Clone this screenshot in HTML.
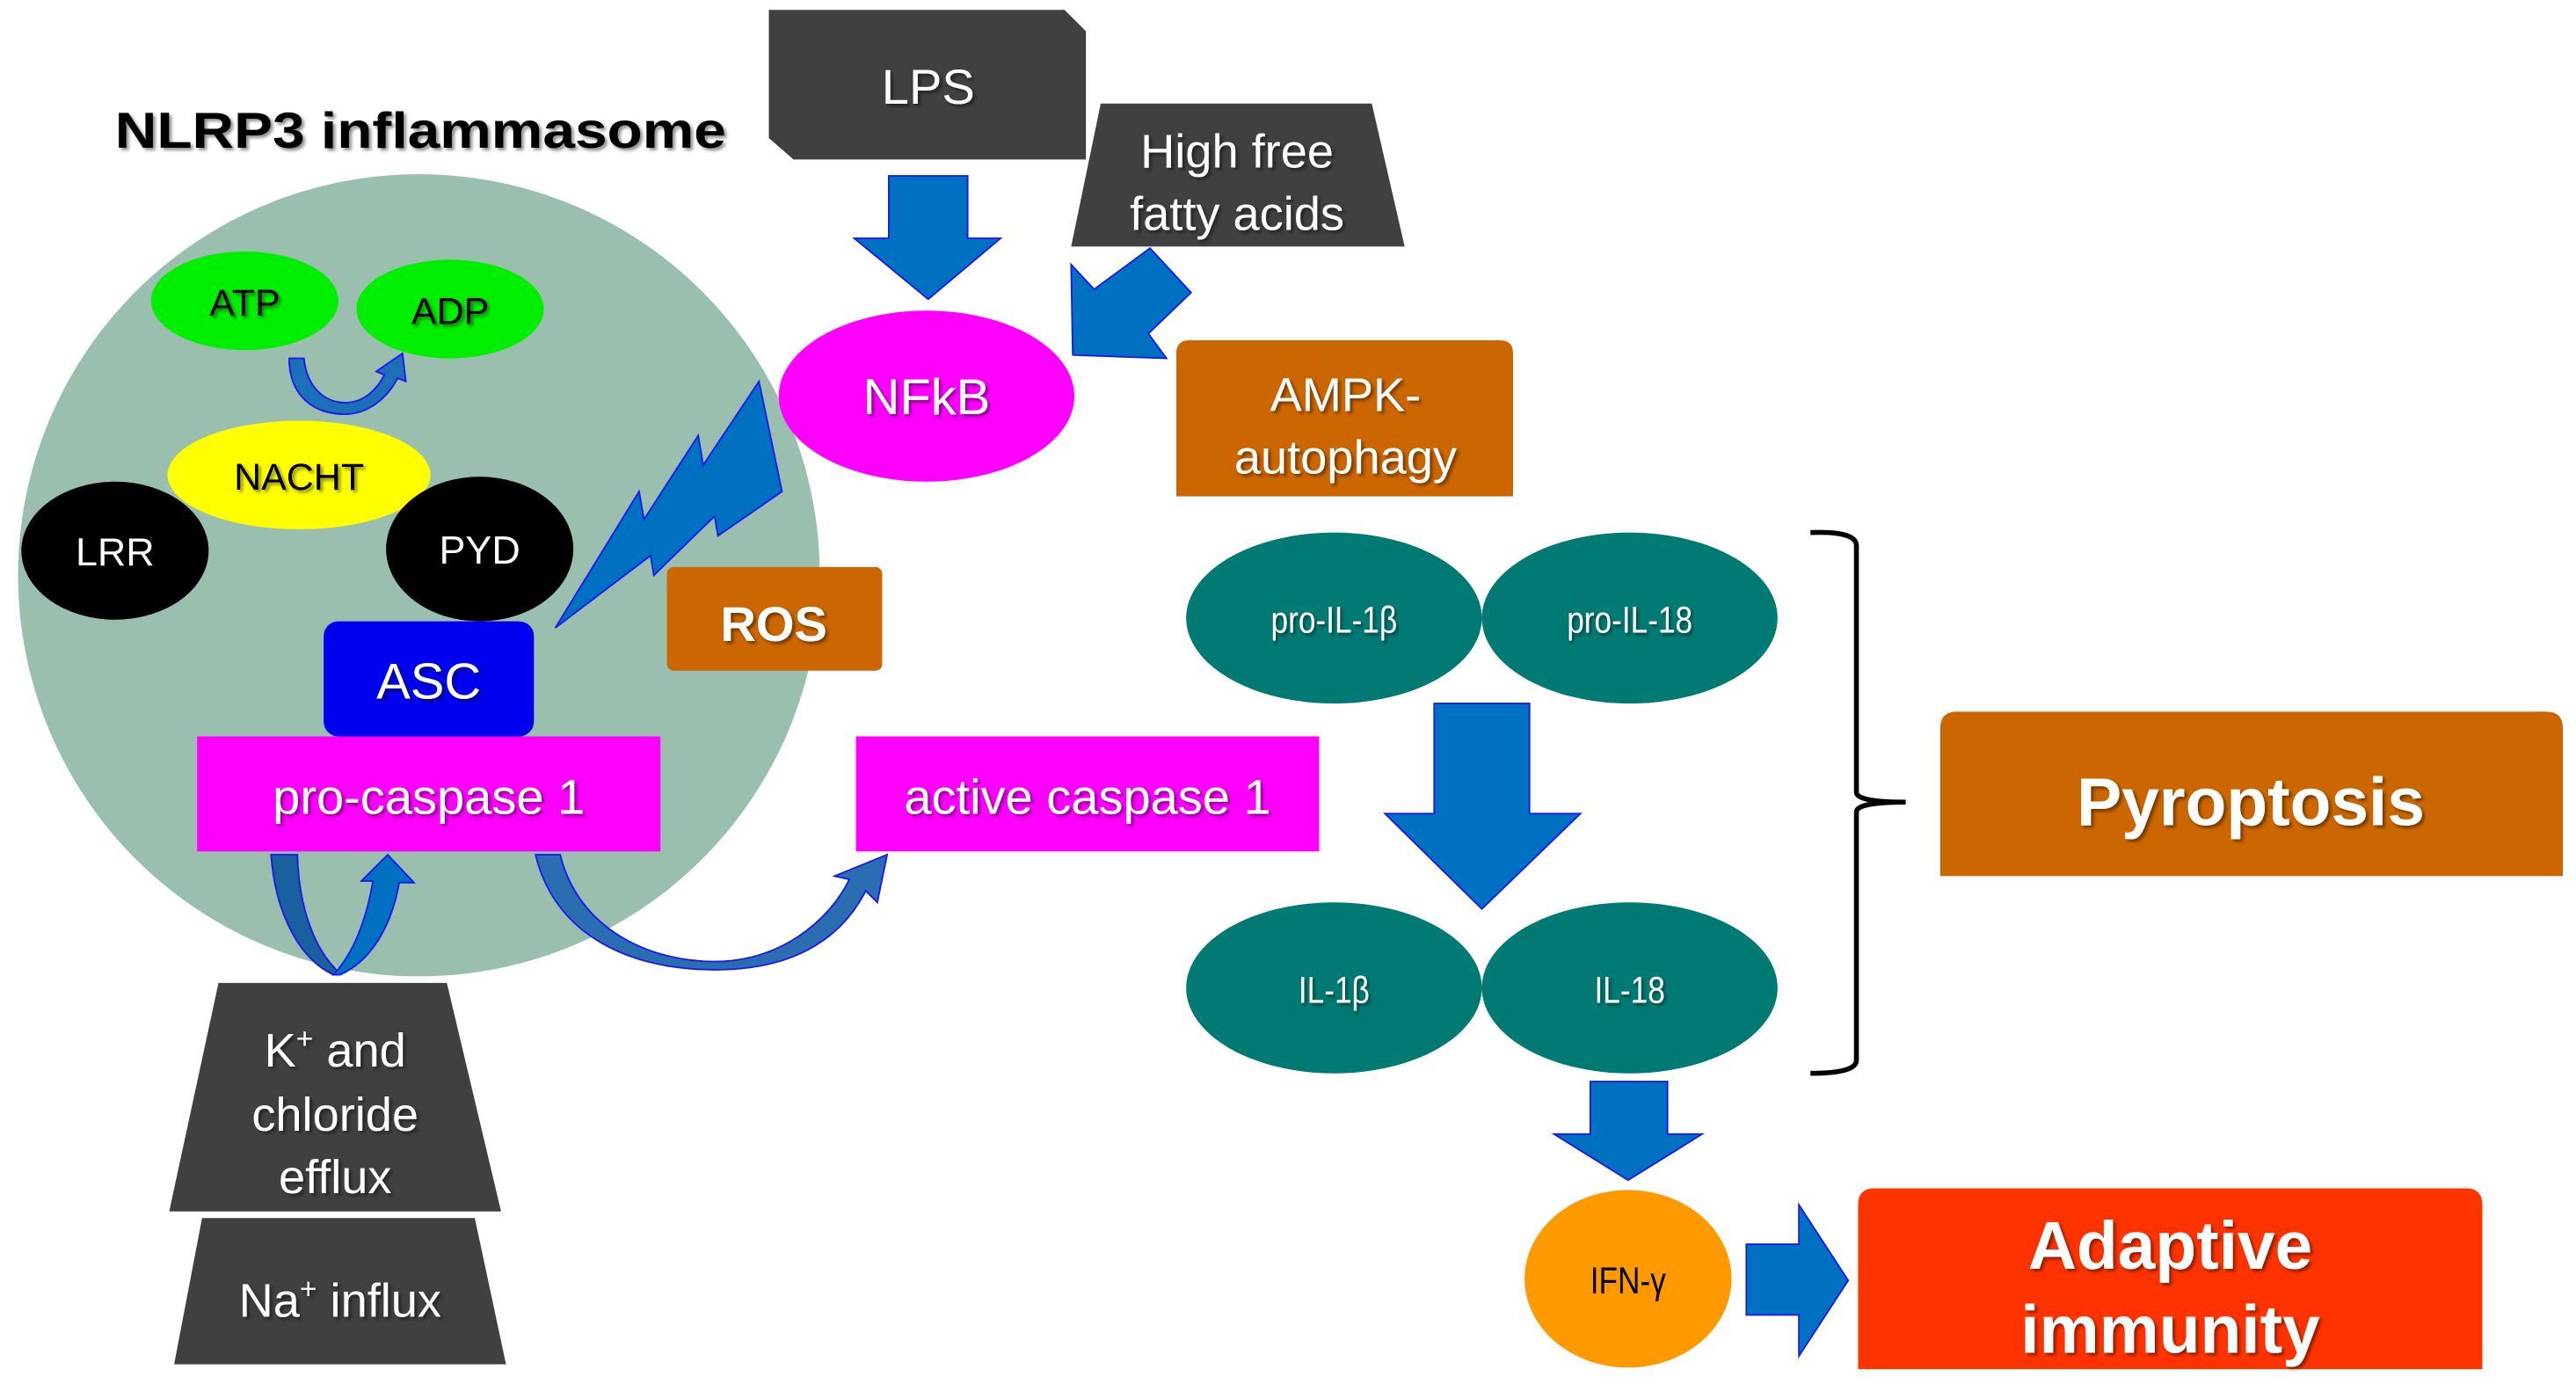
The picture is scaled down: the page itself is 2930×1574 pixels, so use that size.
<!DOCTYPE html>
<html><head><meta charset="utf-8"><style>
html,body{margin:0;padding:0;background:#fff;width:2930px;height:1574px;overflow:hidden}
svg{display:block}
text{font-family:"Liberation Sans",sans-serif}
</style></head><body>
<svg width="2930" height="1574" viewBox="0 0 1568 842" preserveAspectRatio="none" xmlns="http://www.w3.org/2000/svg">
<defs>
<filter id="sh" x="-10%" y="-10%" width="120%" height="130%"><feDropShadow dx="1.5" dy="1.5" stdDeviation="1" flood-color="#000" flood-opacity="0.45"/></filter>
</defs>
<rect width="1568" height="842" fill="#fff"/>
<circle cx="255" cy="350" r="244" fill="#9bbfae"/>
<text x="256" y="90" font-size="31" font-weight="bold" text-anchor="middle" fill="#000" textLength="372" lengthAdjust="spacingAndGlyphs" filter="url(#sh)">NLRP3 inflammasome</text>

<ellipse cx="149" cy="183" rx="57" ry="30" fill="#00ee00"/>
<ellipse cx="274" cy="188" rx="57" ry="30" fill="#00ee00"/>
<text x="149" y="192" font-size="23" text-anchor="middle" filter="url(#sh)">ATP</text>
<text x="274" y="197" font-size="23" text-anchor="middle" filter="url(#sh)">ADP</text>
<path d="M176,218 L185,218 C187,238 200,245 210,245 C222,245 230,236 234,228 L229,226 L245,215 L247,232 L242,230 C236,242 224,252 210,252 C190,252 176,240 176,218 Z" fill="#1d6fb8" stroke="#1a1aee" stroke-width="1"/>

<ellipse cx="182" cy="289" rx="80" ry="33" fill="#ffff00"/>
<text x="182" y="298" font-size="23" text-anchor="middle" filter="url(#sh)">NACHT</text>
<ellipse cx="70" cy="335" rx="57" ry="42" fill="#000"/>
<text x="70" y="344" font-size="24" fill="#fff" text-anchor="middle">LRR</text>
<ellipse cx="292" cy="334" rx="57" ry="44" fill="#000"/>
<text x="292" y="343" font-size="24" fill="#fff" text-anchor="middle">PYD</text>

<rect x="197" y="378" width="128" height="70" rx="9" fill="#0000ee"/>
<text x="261" y="425" font-size="31" fill="#fff" text-anchor="middle" filter="url(#sh)">ASC</text>
<rect x="120" y="448" width="282" height="70" fill="#ff00ff"/>
<text x="261" y="495" font-size="30" fill="#fff" text-anchor="middle" filter="url(#sh)">pro-caspase 1</text>

<path d="M338,382 L389,299 L392,316 L425,265 L428,283 L462,232 L476,299 L437,326 L435,314 L398,350 L396,338 Z" fill="#0070c0" stroke="#1a1aee" stroke-width="1"/>

<rect x="406" y="345" width="131" height="63" rx="4" fill="#cc6600"/>
<text x="471" y="390" font-size="30" font-weight="bold" fill="#fff" text-anchor="middle" filter="url(#sh)">ROS</text>

<polygon points="468,6 648,6 661,19 661,97 483,97 468,84" fill="#404040"/>
<text x="565" y="63" font-size="30" fill="#fff" text-anchor="middle" filter="url(#sh)">LPS</text>
<polygon points="670,63 835,63 855,150 652,150" fill="#404040"/>
<text x="753" y="102" font-size="29" fill="#fff" text-anchor="middle" filter="url(#sh)">High free</text>
<text x="753" y="140" font-size="29" fill="#fff" text-anchor="middle" filter="url(#sh)">fatty acids</text>

<polygon points="541,107 589,107 589,145 609,145 565,182 520,145 541,145" fill="#0070c0" stroke="#1a1aee" stroke-width="1"/>
<polygon points="700,151 725,178 699,203 710,218 653,216 652,161 666,176" fill="#0070c0" stroke="#1a1aee" stroke-width="1"/>

<ellipse cx="564" cy="241" rx="90" ry="52" fill="#ff00ff"/>
<text x="564" y="252" font-size="31" fill="#fff" text-anchor="middle" filter="url(#sh)">NFkB</text>

<path d="M716,302 L716,215 Q716,207 724,207 L913,207 Q921,207 921,215 L921,302 Z" fill="#cc6600"/>
<text x="819" y="250" font-size="29" fill="#fff" text-anchor="middle" filter="url(#sh)">AMPK-</text>
<text x="819" y="288" font-size="29" fill="#fff" text-anchor="middle" filter="url(#sh)">autophagy</text>

<rect x="521" y="448" width="282" height="70" fill="#ff00ff"/>
<text x="662" y="495" font-size="30" fill="#fff" text-anchor="middle" filter="url(#sh)">active caspase 1</text>

<path d="M326,520 L341,520 C352,565 395,585 435,585 C475,585 505,560 517,535 L508,533 L540,520 L534,549 L527,542 C510,575 478,590 435,590 C385,590 338,570 326,520 Z" fill="#2a6db0" stroke="#1a1aee" stroke-width="1"/>

<path d="M165,520 L181,520 C182,555 193,580 207,592 L203,593 C185,585 168,560 165,520 Z" fill="#1a5f9e" stroke="#1a1aee" stroke-width="1"/>
<path d="M203,593 C215,580 223,560 227,536 L220,536 L236,520 L252,537 L243,537 C238,565 225,585 207,593 Z" fill="#0070c0" stroke="#1a1aee" stroke-width="1"/>

<polygon points="133,598 272,598 305,737 103,737" fill="#404040"/>
<text x="204" y="649" font-size="29" fill="#fff" text-anchor="middle" filter="url(#sh)">K<tspan font-size="18" dy="-11">+</tspan><tspan dy="11"> and</tspan></text>
<text x="204" y="688" font-size="29" fill="#fff" text-anchor="middle" filter="url(#sh)">chloride</text>
<text x="204" y="726" font-size="29" fill="#fff" text-anchor="middle" filter="url(#sh)">efflux</text>
<polygon points="123,741 289,741 308,830 106,830" fill="#404040"/>
<text x="207" y="801" font-size="29" fill="#fff" text-anchor="middle" filter="url(#sh)">Na<tspan font-size="18" dy="-11">+</tspan><tspan dy="11"> influx</tspan></text>

<ellipse cx="812" cy="376" rx="90" ry="52" fill="#007a72"/>
<ellipse cx="992" cy="376" rx="90" ry="52" fill="#007a72"/>
<text x="812" y="385" font-size="23" fill="#fff" text-anchor="middle" transform="translate(812,0) scale(0.82,1) translate(-812,0)" filter="url(#sh)">pro-IL-1β</text>
<text x="992" y="385" font-size="23" fill="#fff" text-anchor="middle" transform="translate(992,0) scale(0.82,1) translate(-992,0)" filter="url(#sh)">pro-IL-18</text>
<polygon points="873,428 931,428 931,495 962,495 902,553 843,495 873,495" fill="#0070c0" stroke="#1a1aee" stroke-width="1"/>
<ellipse cx="812" cy="601" rx="90" ry="52" fill="#007a72"/>
<ellipse cx="992" cy="601" rx="90" ry="52" fill="#007a72"/>
<text x="812" y="610" font-size="23" fill="#fff" text-anchor="middle" transform="translate(812,0) scale(0.82,1) translate(-812,0)" filter="url(#sh)">IL-1β</text>
<text x="992" y="610" font-size="23" fill="#fff" text-anchor="middle" transform="translate(992,0) scale(0.82,1) translate(-992,0)" filter="url(#sh)">IL-18</text>

<path d="M1102,324 Q1130,323 1130,332 L1130,482 Q1130,488 1160,488 Q1130,488 1130,494 L1130,645 Q1130,653 1102,653" fill="none" stroke="#000" stroke-width="3"/>

<path d="M1181,533 L1181,443 Q1181,433 1191,433 L1550,433 Q1560,433 1560,443 L1560,533 Z" fill="#cc6600"/>
<text x="1370" y="502" font-size="41" font-weight="bold" fill="#fff" text-anchor="middle" filter="url(#sh)">Pyroptosis</text>

<polygon points="968,658 1015,658 1015,690 1036,690 991,718 946,690 968,690" fill="#0070c0" stroke="#1a1aee" stroke-width="1"/>
<ellipse cx="991" cy="778" rx="63" ry="54" fill="#ff9900"/>
<text x="991" y="787" font-size="23" text-anchor="middle" transform="translate(991,0) scale(0.82,1) translate(-991,0)">IFN-γ</text>
<polygon points="1063,757 1095,757 1095,733 1125,779 1095,825 1095,800 1063,800" fill="#0070c0" stroke="#1a1aee" stroke-width="1"/>

<path d="M1131,833 L1131,733 Q1131,723 1141,723 L1501,723 Q1511,723 1511,733 L1511,833 Z" fill="#ff3300"/>
<text x="1321" y="772" font-size="41" font-weight="bold" fill="#fff" text-anchor="middle" filter="url(#sh)">Adaptive</text>
<text x="1321" y="823" font-size="41" font-weight="bold" fill="#fff" text-anchor="middle" filter="url(#sh)">immunity</text>
</svg>
</body></html>
